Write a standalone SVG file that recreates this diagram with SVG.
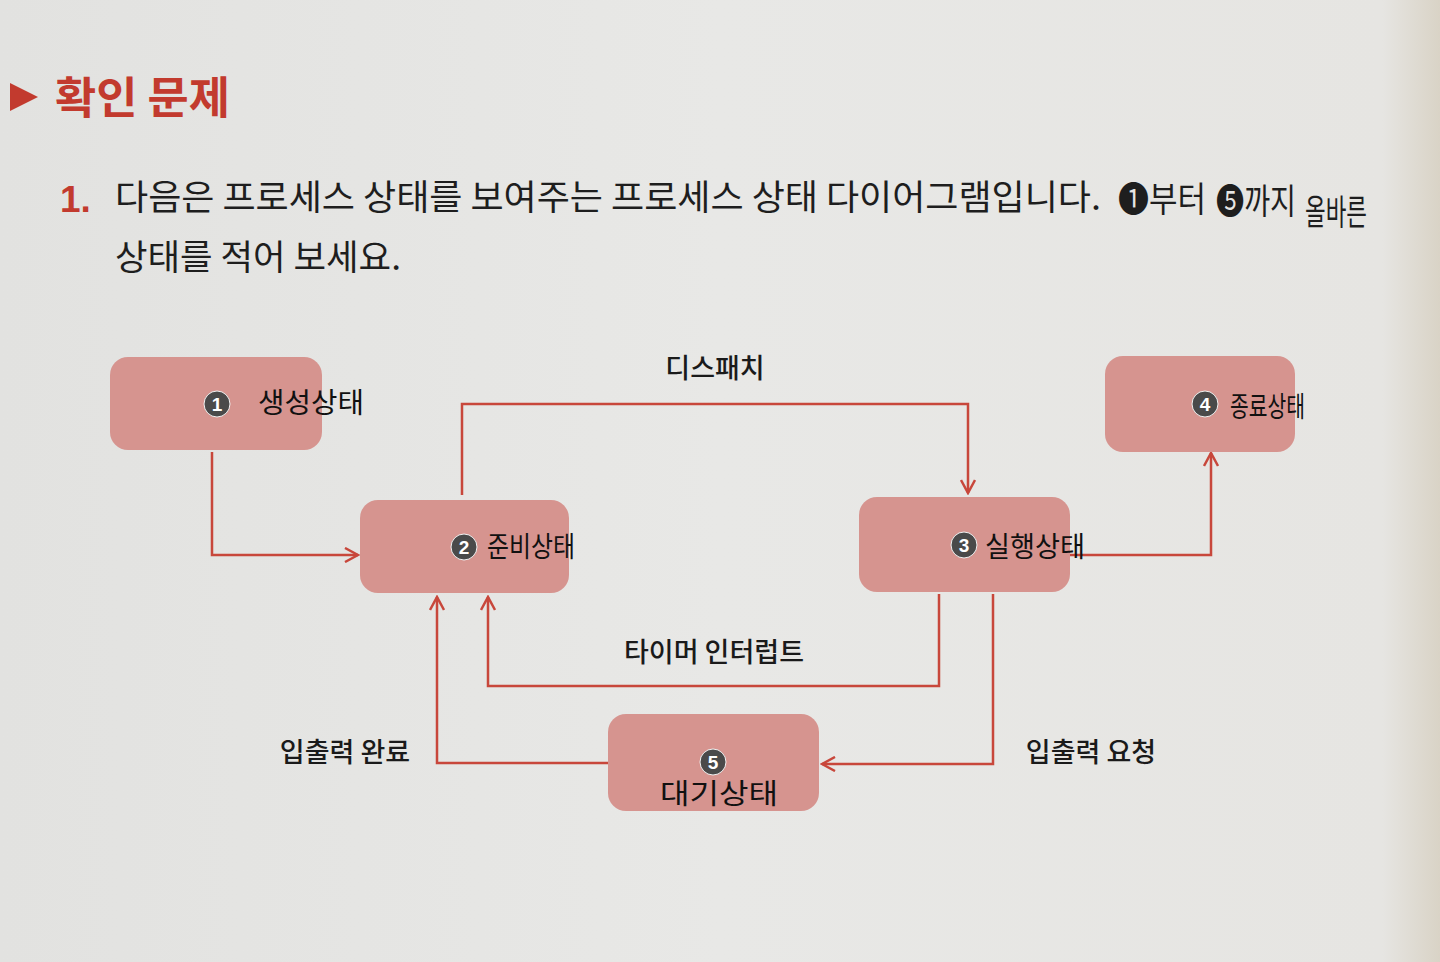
<svg xmlns="http://www.w3.org/2000/svg" width="1440" height="962" viewBox="0 0 1440 962">
<defs>
<linearGradient id="bg" x1="0" y1="0" x2="1" y2="0">
<stop offset="0" stop-color="#e2e2e0"/>
<stop offset="0.5" stop-color="#e8e8e6"/>
<stop offset="0.96" stop-color="#e6e5e2"/>
<stop offset="1" stop-color="#d9d3c6"/>
</linearGradient>
<marker id="arr" viewBox="0 0 16 16" refX="14" refY="8" markerWidth="16" markerHeight="16" markerUnits="userSpaceOnUse" orient="auto">
<path d="M1,1 L14,8 L1,15" fill="none" stroke="#c8473b" stroke-width="2.5"/>
</marker>
<style>
.node{fill:#d6948f}
.badge{fill:#4a4a4a;stroke:#f2f2f2;stroke-width:1}
.bnum{fill:#ffffff;font-family:"Liberation Sans",Arial,sans-serif;font-weight:bold;font-size:19px;text-anchor:middle}
.hand{fill:#111;font-family:"Noto Sans CJK KR","Noto Sans",sans-serif;font-size:28px}
.lbl{fill:#1a1a1a;font-family:"Noto Sans CJK KR","Noto Sans",sans-serif;font-weight:500;font-size:27px;text-anchor:middle}
.body{fill:#1e1e1e;font-family:"Noto Sans CJK KR","Noto Sans",sans-serif;font-size:35px}
.conn{fill:none;stroke:#c8473b;stroke-width:2.5;marker-end:url(#arr)}
</style>
</defs>
<rect width="1440" height="962" fill="url(#bg)"/>

<g id="header">
<polygon points="10,83 38,97 10,111" fill="#c23a2e"/>
<text x="55" y="114" font-family="Noto Sans CJK KR,sans-serif" font-weight="bold" font-size="44" fill="#c23a2e" textLength="175" lengthAdjust="spacingAndGlyphs">확인 문제</text>
</g>

<g id="question">
<text x="60" y="212" font-family="Liberation Sans,Arial,sans-serif" font-weight="bold" font-size="37" fill="#c23a2e">1.</text>
<text class="body" x="115" y="210" textLength="986" lengthAdjust="spacingAndGlyphs">다음은 프로세스 상태를 보여주는 프로세스 상태 다이어그램입니다.</text>
<text class="body" x="1118" y="212" textLength="88" lengthAdjust="spacingAndGlyphs">❶부터</text>
<text class="body" x="1216" y="214" textLength="80" lengthAdjust="spacingAndGlyphs">❺까지</text>
<text class="body" x="1305" y="225" font-size="30" textLength="62" lengthAdjust="spacingAndGlyphs">올바른</text>
<text class="body" x="115" y="270" textLength="286" lengthAdjust="spacingAndGlyphs">상태를 적어 보세요.</text>
</g>

<g id="connectors">
<polyline class="conn" points="212,452 212,555 358,555"/>
<polyline class="conn" points="462,495 462,404 968,404 968,493"/>
<polyline class="conn" points="1070,555 1211,555 1211,453"/>
<polyline class="conn" points="939,594 939,686 488,686 488,597"/>
<polyline class="conn" points="993,594 993,764 822,764"/>
<polyline class="conn" points="608,763 437,763 437,597"/>
<text class="lbl" x="715" y="378">디스패치</text>
<text class="lbl" x="714" y="662">타이머 인터럽트</text>
<text class="lbl" x="1091" y="762">입출력 요청</text>
<text class="lbl" x="345" y="762">입출력 완료</text>
</g>

<g id="node1">
<rect class="node" x="110" y="357" width="212" height="93" rx="18"/>
<circle class="badge" cx="217" cy="404" r="13"/>
<text class="bnum" x="217" y="411">1</text>
<text class="hand" x="258" y="413" textLength="106" lengthAdjust="spacingAndGlyphs">생성상태</text>
</g>

<g id="node2">
<rect class="node" x="360" y="500" width="209" height="93" rx="18"/>
<circle class="badge" cx="464" cy="547" r="13"/>
<text class="bnum" x="464" y="554">2</text>
<text class="hand" x="487" y="557" textLength="88" lengthAdjust="spacingAndGlyphs">준비상태</text>
</g>

<g id="node3">
<rect class="node" x="859" y="497" width="211" height="95" rx="18"/>
<circle class="badge" cx="964" cy="545" r="13"/>
<text class="bnum" x="964" y="552">3</text>
<text class="hand" x="985" y="557" textLength="100" lengthAdjust="spacingAndGlyphs">실행상태</text>
</g>

<g id="node4">
<rect class="node" x="1105" y="356" width="190" height="96" rx="18"/>
<circle class="badge" cx="1205" cy="404" r="13"/>
<text class="bnum" x="1205" y="411">4</text>
<text class="hand" x="1230" y="417" textLength="75" lengthAdjust="spacingAndGlyphs">종료상태</text>
</g>

<g id="node5">
<rect class="node" x="608" y="714" width="211" height="97" rx="18"/>
<circle class="badge" cx="713" cy="762" r="13"/>
<text class="bnum" x="713" y="769">5</text>
<text class="hand" x="660" y="804" textLength="118" lengthAdjust="spacingAndGlyphs">대기상태</text>
</g>
</svg>
